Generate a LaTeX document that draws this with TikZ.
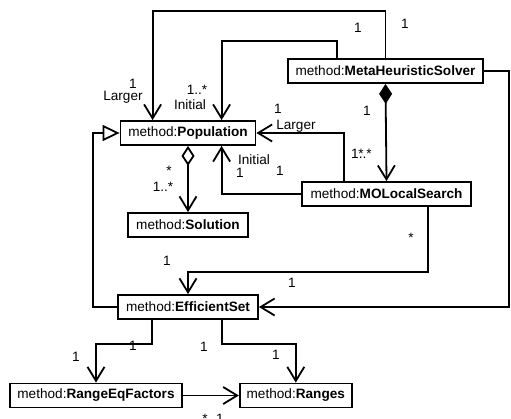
\documentclass[tikz,border=0pt]{standalone}
\usepackage{fontspec}
\setmainfont{Liberation Sans}
\usetikzlibrary{arrows.meta,positioning}

\begin{document}
\begin{tikzpicture}[
    x=1pt, y=-1pt,
    font=\fontsize{13.6}{16}\selectfont,
    cls/.style={rectangle, draw=black, line width=1.8pt, minimum height=24pt, inner xsep=2pt, inner ysep=0pt, text centered},
    lab/.style={anchor=base, inner sep=0pt},
    assoc/.style={arrows={-Straight Barb[length=14pt,width=17pt]}, line width=1.8pt},
    comp/.style={arrows={Diamond[length=20pt,width=13pt]-Straight Barb[length=14pt,width=17pt]}, line width=1.8pt},
    aggr/.style={arrows={Diamond[open,length=20pt,width=13pt]-Straight Barb[length=14pt,width=17pt]}, line width=1.8pt},
    gen/.style={arrows={-Triangle[open,length=17pt,width=16pt]}, line width=1.8pt}
]
\useasboundingbox (0,0) rectangle (511,418);

\node (mhs1) [cls, minimum width=195pt] at (385.5,71) {method:\textbf{MetaHeuristicSolver}};
\node (pop1) [cls, minimum width=135pt] at (188,133) {method:\textbf{Population}};
\node (sol1) [cls, minimum width=120pt] at (188,225) {method:\textbf{Solution}};
\node (mls1) [cls, minimum width=169pt] at (386.5,194) {method:\textbf{MOLocalSearch}};
\node (eff1) [cls, minimum width=140pt] at (188,307) {method:\textbf{EfficientSet}};
\node (req1) [cls, minimum width=172pt] at (96,395.5) {method:\textbf{RangeEqFactors}};
\node (rng1) [cls, minimum width=112pt, right=56pt of req1] {method:\textbf{Ranges}};

\draw [assoc] (mhs1.north) -- ++(0,-47) -| ([xshift=33pt]pop1.north west);
\draw [assoc] ([xshift=50pt]mhs1.north west) -- ++(0,-17) -| ([xshift=102pt]pop1.north west);
\draw [comp] (mhs1.south) -- (mls1.north);
\draw [assoc] (mhs1.east) -- ++(25,0) |- (eff1.east);
\draw [assoc] ([xshift=43pt]mls1.north west) |- (pop1.east);
\draw [assoc] (mls1.west) -| ([xshift=102pt]pop1.south west);
\draw [assoc] ([xshift=127pt]mls1.south west) -- ++(0,65) -| (eff1.north);
\draw [aggr] (pop1.south) -- (sol1.north);
\draw [gen] (eff1.west) -- ++(-24,0) |- (pop1.west);
\draw [assoc] ([xshift=35pt]eff1.south west) -- ++(0,24) -| (req1.north);
\draw [assoc] ([xshift=105pt]eff1.south west) -- ++(0,24) -| (rng1.north);
\draw [assoc] (req1.east) -- (rng1.west);

% multiplicities and roles
\node (lab1) [lab] at (405,28) {1};
\node (lab2) [lab] at (133,88) {1};
\node (lab3) [lab] at (123,100) {Larger};
\node (lab4) [lab] at (358,32) {1};
\node (lab5) [lab] at (197,94) {1..*};
\node (lab6) [lab] at (190,109) {Initial};
\node (lab7) [lab] at (367,115) {1};
\node (lab8) [lab, anchor=base west] at (351,158) {1..*};
\node (lab9) [lab] at (361,158) {*};
\node (lab10) [lab] at (278,113) {1};
\node (lab11) [lab] at (296,129) {Larger};
\node (lab12) [lab] at (254,164) {Initial};
\node (lab13) [lab] at (240,177) {1};
\node (lab14) [lab] at (280,175) {1};
\node (lab15) [lab] at (169,175) {*};
\node (lab16) [lab] at (163,191) {1..*};
\node (lab17) [lab] at (411,242) {*};
\node (lab18) [lab] at (167,265) {1};
\node (lab19) [lab] at (292,287) {1};
\node (lab20) [lab] at (133,350) {1};
\node (lab21) [lab] at (76,361) {1};
\node (lab22) [lab] at (204,351) {1};
\node (lab23) [lab] at (276,359) {1};
\node (lab24) [lab] at (205,423) {*};
\node (lab25) [lab] at (220,423) {1};
\end{tikzpicture}
\end{document}
